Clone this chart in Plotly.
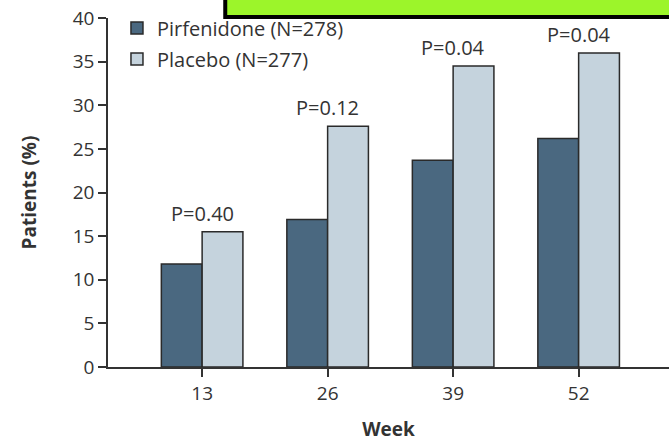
import plotly.graph_objects as go

weeks = ["13", "26", "39", "52"]
pirfenidone = [11.8, 16.9, 23.7, 26.2]
placebo = [15.5, 27.6, 34.5, 36.0]
p_values = ["P=0.40", "P=0.12", "P=0.04", "P=0.04"]
y_ticks = [0, 5, 10, 15, 20, 25, 30, 35, 40]

FONT = "Open Sans"
TXT = "#333333"
EDGE = "#2a2a2a"

fig = go.Figure()
fig.add_trace(go.Bar(
    x=weeks, y=pirfenidone, name="Pirfenidone (N=278)", legendgroup="a",
    marker=dict(color="#4a6880", line=dict(color=EDGE, width=1.5)),
))
fig.add_trace(go.Bar(
    x=weeks, y=placebo, name="Placebo (N=277)", legendgroup="b",
    marker=dict(color="#c5d3dd", line=dict(color=EDGE, width=1.5)),
))

for i, (v, p) in enumerate(zip(placebo, p_values)):
    fig.add_annotation(x=i, y=v, xref="x", yref="y", text=p, showarrow=False,
                       yanchor="bottom", yshift=3,
                       font=dict(family=FONT, size=20, color=TXT))

fig.add_shape(type="rect", xref="paper", yref="paper",
              x0=0.209, x1=1.05, y0=1.003, y1=1.2,
              fillcolor="#9cf52a", line=dict(color="black", width=4), layer="above")

fig.update_layout(
    width=669, height=442,
    margin=dict(l=108, r=0, t=18, b=75, autoexpand=False),
    plot_bgcolor="white", paper_bgcolor="white",
    barmode="group", bargap=0.35, bargroupgap=0,
    font=dict(family=FONT, size=19, color=TXT),
    showlegend=True,
    legend=dict(x=0.016, y=1.027, xanchor="left", yanchor="top", traceorder="grouped",
                bgcolor="rgba(0,0,0,0)", font=dict(family=FONT, size=20, color=TXT),
                tracegroupgap=2, itemwidth=30),
    xaxis=dict(type="category", range=[-0.75, 3.72], showline=True, linecolor="#333",
               linewidth=1.5, ticks="outside", ticklen=8, tickcolor="#333", tickwidth=1.5,
               showgrid=False, zeroline=False, automargin=False,
               title=dict(text="<b>Week</b>", font=dict(family=FONT, size=19, color=TXT), standoff=20)),
    yaxis=dict(range=[0, 40], tickvals=y_ticks, showline=True, linecolor="#333",
               linewidth=1.5, ticks="outside", ticklen=8, tickcolor="#333", tickwidth=1.5,
               showgrid=False, zeroline=False, automargin=False, ticklabeloverflow="allow",
               title=dict(text="<b>Patients (%)</b>", font=dict(family=FONT, size=19, color=TXT), standoff=31)),
)

fig.write_html("out.html", config={"displayModeBar": False},
               post_script="document.body.style.margin='0';")
